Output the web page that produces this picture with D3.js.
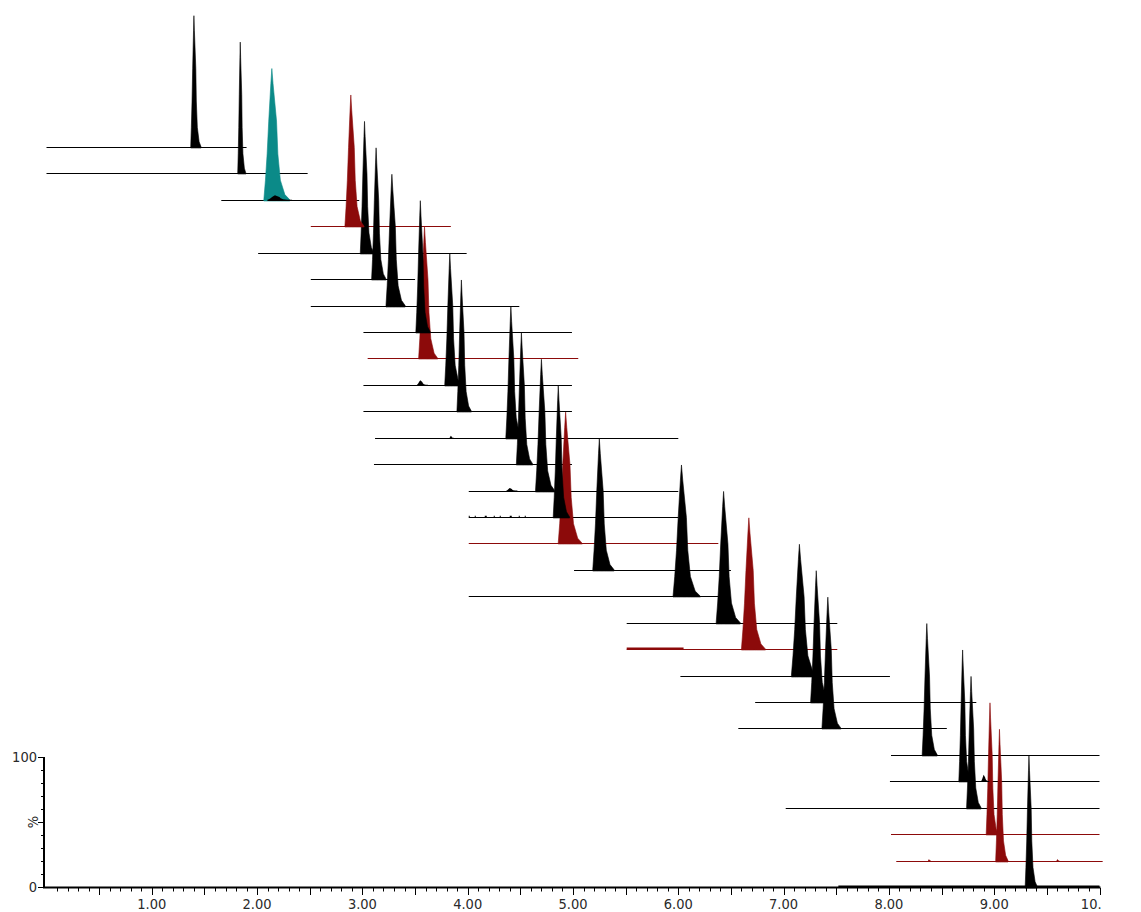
<!DOCTYPE html>
<html>
<head>
<meta charset="utf-8">
<script src="https://cdn.jsdelivr.net/npm/d3@7/dist/d3.min.js"></script>
<style>
  body { margin: 0; background: #fff; }
  svg text { font-family: "Liberation Sans Narrow", "DejaVu Sans Condensed", "Liberation Sans", sans-serif; font-stretch: condensed; fill: #2a2a2a; }
</style>
</head>
<body>
<svg id="chart" width="1141" height="912"></svg>
<script>
// traces listed top to bottom, times in minutes
const traceStart = [0.00, 0.00, 1.66, 2.51, 2.01, 2.51, 2.51, 3.01, 3.05, 3.01,
                    3.01, 3.12, 3.11, 4.01, 4.01, 4.01, 5.01, 4.01, 5.51, 5.51,
                    6.02, 6.73, 6.57, 8.02, 8.01, 7.02, 8.02, 8.07, 7.52];
const traceEnd   = [1.90, 2.48, 2.97, 3.84, 3.99, 3.50, 4.49, 4.99, 5.05, 4.99,
                    4.99, 6.00, 4.99, 6.00, 6.00, 6.38, 6.50, 6.40, 7.51, 7.51,
                    8.01, 8.83, 8.55, 10.0, 10.0, 10.0, 10.0, 10.03, 10.0];
const peakTime   = [1.40, 1.84, 2.14, 2.89, 3.02, 3.13, 3.28, 3.55, 3.59, 3.83,
                    3.94, 4.41, 4.51, 4.70, 4.86, 4.93, 5.25, 6.03, 6.43, 6.67,
                    7.15, 7.31, 7.42, 8.36, 8.70, 8.78, 8.96, 9.05, 9.33];
const peakHeight = [101, 101, 101, 101, 101, 101, 101, 101, 101, 101,
                    101, 101, 101, 101, 101, 101, 101, 101, 101, 101,
                    101, 101, 101, 101, 101, 101, 101, 101, 101];
const peakWidth  = [0.38, 0.30, 0.95, 0.70, 0.50, 0.53, 0.70, 0.53, 0.70, 0.60,
                    0.53, 0.60, 0.60, 0.70, 0.60, 0.88, 0.78, 1.00, 0.88, 0.88,
                    0.95, 0.67, 0.70, 0.55, 0.45, 0.53, 0.45, 0.45, 0.45];
const traceColour = ["k", "k", "t", "r", "k", "k", "k", "k", "r", "k",
                     "k", "k", "k", "k", "k", "r", "k", "k", "k", "r",
                     "k", "k", "k", "k", "k", "k", "r", "r", "k"];

const peakProfile = [[-0.080, 0], [-0.064, 0.15], [-0.047, 0.35], [-0.031, 0.6],
                     [-0.010, 0.885], [0, 1], [0.012, 0.885], [0.047, 0.6],
                     [0.060, 0.35], [0.085, 0.15], [0.13, 0.04], [0.18, 0]];

// little bumps on the baselines: trace index, time, height (%), width factor
const minorTrace  = [2, 9, 11, 13, 24, 27, 27];
const minorTime   = [2.17, 3.55, 3.84, 4.40, 8.90, 8.38, 9.60];
const minorHeight = [3.5, 3.5, 1.5, 2, 5, 1.2, 1.2];
const minorWidth  = [0.9, 0.4, 0.15, 0.4, 0.3, 0.1, 0.1];

// noisy stretches drawn a bit heavier
const noiseTrace = [19, 14, 28];
const noiseFrom  = [5.51, 4.01, 7.52];
const noiseTo    = [6.05, 4.60, 10.0];
const noiseDash  = ["", "1,5,1,9,2,7", ""];

const xTicks = [1, 2, 3, 4, 5, 6, 7, 8, 9];
const yTicks = [0, 100];

const colours = { k: "#000000", r: "#8c0a0a", t: "#0b8a88" };
const lineColours = { k: "#000000", r: "#8c0a0a", t: "#000000" };

const svg = d3.select("#chart");
const x = d3.scaleLinear().domain([0, 10]).range([46.5, 1099.5]);
const y = d3.scaleLinear().domain([0, 100]).range([887, 757]);
const nRows = peakTime.length;
const rowStep = 20.33; // % units between stacked traces
const baseOf = i => (nRows - 1 - i) * rowStep;

// baselines
const g = svg.append("g");
g.selectAll("line.base")
  .data(d3.range(nRows))
  .join("line")
  .attr("class", "base")
  .attr("x1", i => x(traceStart[i]))
  .attr("x2", i => x(traceEnd[i]))
  .attr("y1", i => Math.round(y(baseOf(i))) + 0.5)
  .attr("y2", i => Math.round(y(baseOf(i))) + 0.5)
  .attr("stroke", i => lineColours[traceColour[i]])
  .attr("stroke-width", 1);

g.selectAll("line.noise")
  .data(d3.range(noiseTrace.length))
  .join("line")
  .attr("class", "noise")
  .attr("x1", j => x(noiseFrom[j]))
  .attr("x2", j => x(noiseTo[j]))
  .attr("y1", j => Math.round(y(baseOf(noiseTrace[j]))) - 0.5)
  .attr("y2", j => Math.round(y(baseOf(noiseTrace[j]))) - 0.5)
  .attr("stroke", j => lineColours[traceColour[noiseTrace[j]]])
  .attr("stroke-dasharray", j => noiseDash[j])
  .attr("stroke-width", j => noiseDash[j] ? 1.5 : 2);

const area = d3.area()
  .x(d => x(d.t))
  .y0(d => Math.round(y(d.b)) + 1)
  .y1(d => y(d.b + d.h));

const peakPoints = (t, b, h, w) =>
  peakProfile.map(p => ({ t: t + p[0] * w, b: b, h: p[1] * h }));

// main peaks, drawn bottom row first so upper ones sit on top
g.selectAll("path.peak")
  .data(d3.range(nRows).reverse())
  .join("path")
  .attr("class", "peak")
  .attr("d", i => area(peakPoints(peakTime[i], baseOf(i), peakHeight[i], peakWidth[i])))
  .attr("fill", i => colours[traceColour[i]])
  .attr("stroke", i => colours[traceColour[i]])
  .attr("stroke-width", 0.6);

g.selectAll("path.minor")
  .data(d3.range(minorTrace.length))
  .join("path")
  .attr("class", "minor")
  .attr("d", j => area(peakPoints(minorTime[j], baseOf(minorTrace[j]), minorHeight[j], minorWidth[j])))
  .attr("fill", j => lineColours[traceColour[minorTrace[j]]]);

// x axis
const xAxisY = y(0);
svg.append("line")
  .attr("x1", 43).attr("x2", x(10) + 1)
  .attr("y1", xAxisY + 0.5).attr("y2", xAxisY + 0.5)
  .attr("stroke", "#000").attr("stroke-width", 2);

const xMinor = d3.range(1, 100).map(k => k / 10);
svg.selectAll("line.xt")
  .data(xMinor.concat([10]))
  .join("line")
  .attr("class", "xt")
  .attr("x1", d => Math.round(x(d)) + 0.5)
  .attr("x2", d => Math.round(x(d)) + 0.5)
  .attr("y1", xAxisY + 1)
  .attr("y2", d => xAxisY + (Math.round(d * 10) % 5 === 0 ? 8 : 4.5))
  .attr("stroke", "#000").attr("stroke-width", 1);

svg.selectAll("text.xl")
  .data(xTicks)
  .join("text")
  .attr("class", "xl")
  .attr("x", d => x(d))
  .attr("y", 909)
  .attr("text-anchor", "middle")
  .attr("font-size", 14.5)
  .text(d => d3.format(".2f")(d));

svg.append("clipPath").attr("id", "cut")
  .append("rect").attr("x", 1070).attr("y", 890).attr("width", 31).attr("height", 22);
svg.append("text")
  .attr("clip-path", "url(#cut)")
  .attr("x", x(10))
  .attr("y", 909)
  .attr("text-anchor", "middle")
  .attr("font-size", 14.5)
  .text("10.00");

// y axis
const yAxisX = 44;
svg.append("line")
  .attr("x1", yAxisX).attr("x2", yAxisX)
  .attr("y1", y(100)).attr("y2", y(0) + 1)
  .attr("stroke", "#000").attr("stroke-width", 2);

svg.selectAll("line.yt")
  .data(d3.range(0, 101, 10))
  .join("line")
  .attr("class", "yt")
  .attr("x1", d => yAxisX - (d % 50 === 0 ? 6 : 3))
  .attr("x2", yAxisX)
  .attr("y1", d => Math.round(y(d)) + 0.5)
  .attr("y2", d => Math.round(y(d)) + 0.5)
  .attr("stroke", "#000").attr("stroke-width", 1);

svg.selectAll("text.yl")
  .data(yTicks)
  .join("text")
  .attr("class", "yl")
  .attr("x", 37)
  .attr("y", d => y(d) + 5)
  .attr("text-anchor", "end")
  .attr("font-size", 14.5)
  .text(d => d);

svg.append("text")
  .attr("transform", `translate(38,${y(50)}) rotate(-90)`)
  .attr("text-anchor", "middle")
  .attr("font-size", 14.5)
  .text("%");
</script>
</body>
</html>
